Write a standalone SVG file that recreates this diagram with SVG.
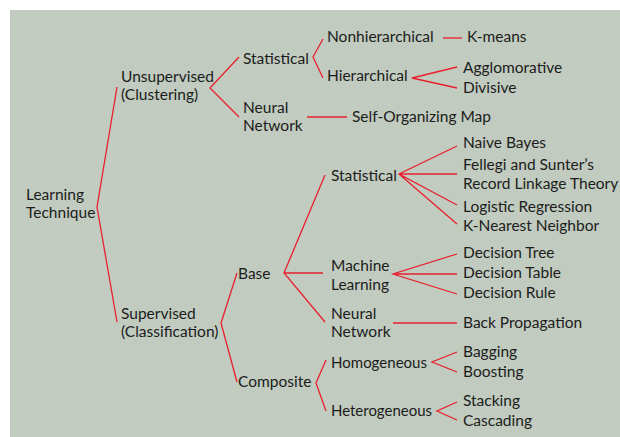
<svg xmlns="http://www.w3.org/2000/svg" width="620" height="437" viewBox="0 0 620 437">
<style>
text{font-family:Lato,"Open Sans","Liberation Sans",sans-serif;font-size:15.5px;fill:#1c1c1c}
.c path{fill:none;stroke:#e8202e;stroke-width:1.3;stroke-linejoin:miter}
</style>
<rect x="10" y="10" width="610" height="427" fill="#c1cbbf"/>
<g class="c" id="connectors">
<path d="M117,87 L97,207 L117,322"/>
<path d="M239,57 L210,88 L239,117"/>
<path d="M307,117 H347"/>
<path d="M323,39 L313,57 L323,78"/>
<path d="M443,38 H462"/>
<path d="M457,67 L412,78 L457,88"/>
<path d="M237,273 L221,323 L237,382"/>
<path d="M325,175 L284,273 L325,322 M284,273 H323"/>
<path d="M457,146 L399,174 L457,205 M399,174 H457 M399,174 L457,224"/>
<path d="M457,254 L393,274 L457,294 M393,274 H457"/>
<path d="M393,323 H457"/>
<path d="M326,360 L316,383 L326,411"/>
<path d="M457,352 L432,362 L457,372"/>
<path d="M457,402 L437,411 L457,420"/>
</g>
<g id="learning-technique"><text x="26" y="200">Learning</text><text x="26" y="218">Technique</text></g>
<g id="unsupervised"><text x="121" y="82">Unsupervised</text><text x="121" y="100">(Clustering)</text></g>
<g id="u-statistical"><text x="243" y="64">Statistical</text></g>
<g id="u-neural"><text x="243" y="113">Neural</text><text x="243" y="131">Network</text></g>
<g id="som"><text x="352" y="122">Self-Organizing Map</text></g>
<g id="nonhier"><text x="327" y="42">Nonhierarchical</text></g>
<g id="kmeans"><text x="467" y="42">K-means</text></g>
<g id="hier"><text x="327" y="81">Hierarchical</text></g>
<g id="agglo"><text x="463" y="73">Agglomorative</text></g>
<g id="divisive"><text x="463" y="93">Divisive</text></g>
<g id="supervised"><text x="121" y="319">Supervised</text><text x="121" y="337">(Classification)</text></g>
<g id="base"><text x="238" y="279">Base</text></g>
<g id="composite"><text x="238" y="387">Composite</text></g>
<g id="s-statistical"><text x="331" y="181">Statistical</text></g>
<g id="naive"><text x="463" y="148">Naive Bayes</text></g>
<g id="fellegi"><text x="463" y="170">Fellegi and Sunter’s</text><text x="463" y="189">Record Linkage Theory</text></g>
<g id="logistic"><text x="463" y="212">Logistic Regression</text></g>
<g id="knn"><text x="463" y="231">K-Nearest Neighbor</text></g>
<g id="ml"><text x="331" y="271">Machine</text><text x="331" y="290">Learning</text></g>
<g id="dtree"><text x="463" y="258">Decision Tree</text></g>
<g id="dtable"><text x="463" y="278">Decision Table</text></g>
<g id="drule"><text x="463" y="298">Decision Rule</text></g>
<g id="s-neural"><text x="331" y="319">Neural</text><text x="331" y="337">Network</text></g>
<g id="backprop"><text x="463" y="328">Back Propagation</text></g>
<g id="homog"><text x="331" y="368" textLength="96" lengthAdjust="spacingAndGlyphs">Homogeneous</text></g>
<g id="heterog"><text x="331" y="416" textLength="101" lengthAdjust="spacingAndGlyphs">Heterogeneous</text></g>
<g id="bagging"><text x="463" y="357">Bagging</text></g>
<g id="boosting"><text x="463" y="377">Boosting</text></g>
<g id="stacking"><text x="463" y="406">Stacking</text></g>
<g id="cascading"><text x="463" y="426">Cascading</text></g>
</svg>
